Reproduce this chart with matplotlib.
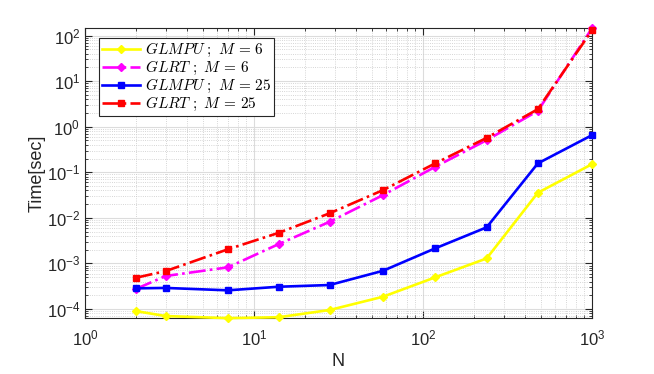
import numpy as np
import matplotlib
matplotlib.use('Agg')
import matplotlib.pyplot as plt

plt.rcParams['font.family'] = ['Liberation Sans', 'DejaVu Sans']
plt.rcParams['mathtext.fontset'] = 'cm'

# data
N = [2, 3, 7, 14, 28, 58, 118, 238, 478, 1000]
glmpu_6 = [9.0e-5, 7.0e-5, 6.3e-5, 6.6e-5, 9.5e-5, 1.86e-4, 4.95e-4, 1.29e-3, 0.0356, 0.151]
glrt_6 = [2.75e-4, 5.3e-4, 8.2e-4, 2.66e-3, 8.2e-3, 0.0316, 0.132, 0.508, 2.23, 145]
glmpu_25 = [2.84e-4, 2.9e-4, 2.57e-4, 3.08e-4, 3.36e-4, 6.9e-4, 2.14e-3, 6.2e-3, 0.157, 0.655]
glrt_25 = [4.85e-4, 6.8e-4, 2.04e-3, 4.7e-3, 0.0126, 0.0407, 0.157, 0.571, 2.43, 131]

labels = [r'$GLMPU\ ;\ M\,=\,6$', r'$GLRT\ ;\ M\,=\,6$',
          r'$GLMPU\ ;\ M\,=\,25$', r'$GLRT\ ;\ M\,=\,25$']

fig = plt.figure(figsize=(6.54, 3.74), dpi=100)
ax = fig.add_axes([85/654, 1-318.3/374, (592-85)/654, (318.3-28.3)/374])

lw = 1.9
ms = 5
ax.plot(N, glmpu_6, '-', color=[1, 1, 0], marker='D', ms=ms-0.5, lw=lw, label=labels[0], clip_on=False, zorder=3)
ax.plot(N, glrt_6, '-.', color=[1, 0, 1], marker='D', ms=ms-0.5, lw=lw, label=labels[1], clip_on=False, zorder=3)
ax.plot(N, glmpu_25, '-', color=[0, 0, 1], marker='s', ms=ms, lw=lw, label=labels[2], clip_on=False, zorder=3)
ax.plot(N, glrt_25, '-.', color=[1, 0, 0], marker='s', ms=ms, lw=lw, label=labels[3], clip_on=False, zorder=3)

ax.set_xscale('log')
ax.set_yscale('log')
ax.set_xlim(1, 1000)
ax.set_ylim(6.25e-5, 145)
ax.set_xticks([1, 10, 100, 1000])
ax.set_yticks([1e-4, 1e-3, 1e-2, 1e-1, 1, 10, 100])

ax.grid(True, which='major', color='#dcdcdc', lw=0.8, ls='-')
ax.grid(True, which='minor', color='#c8c8c8', lw=0.6, ls=':')
ax.set_axisbelow(True)

for s in ax.spines.values():
    s.set_color('#262626')
    s.set_linewidth(0.8)
ax.tick_params(which='both', direction='in', top=True, right=True, colors='#262626', labelsize=12)
ax.tick_params(which='major', length=5)
ax.tick_params(which='minor', length=2.5)
ax.tick_params(axis='x', pad=7)

ax.set_xlabel('N', fontsize=13, color='#262626')
ax.set_ylabel('Time[sec]', fontsize=13, color='#262626', labelpad=1)

leg = ax.legend(loc='upper left', bbox_to_anchor=(14/507, 1-9.5/290), fontsize=11,
                fancybox=False, edgecolor='#262626', framealpha=1, handlelength=2.5,
                handletextpad=0.3, borderpad=0.2, labelspacing=0.0, borderaxespad=0)
leg.get_frame().set_linewidth(0.8)

fig.savefig('out.png', dpi=100)
